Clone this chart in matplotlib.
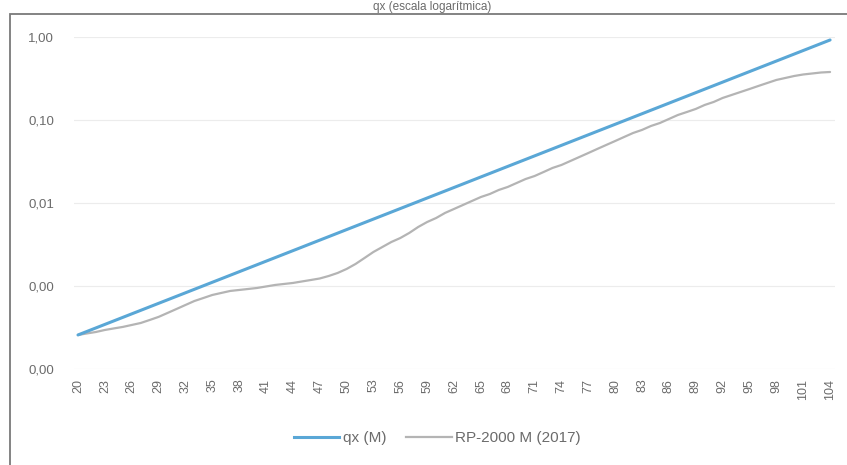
import matplotlib
matplotlib.use("Agg")
import matplotlib.pyplot as plt
from matplotlib.lines import Line2D
from matplotlib.patches import Rectangle
from matplotlib.ticker import FixedLocator, FuncFormatter

plt.rcParams['font.family'] = ['Liberation Sans', 'DejaVu Sans']

ages = list(range(20, 105))

qx_m = [
    2.570e-4, 2.833e-4, 3.123e-4, 3.443e-4, 3.795e-4, 4.183e-4, 4.612e-4, 5.083e-4,
    5.604e-4, 6.177e-4, 6.808e-4, 7.505e-4, 8.272e-4, 9.119e-4, 1.005e-3, 1.108e-3,
    1.221e-3, 1.346e-3, 1.484e-3, 1.636e-3, 1.803e-3, 1.988e-3, 2.191e-3, 2.415e-3,
    2.662e-3, 2.934e-3, 3.235e-3, 3.566e-3, 3.930e-3, 4.332e-3, 4.776e-3, 5.264e-3,
    5.803e-3, 6.397e-3, 7.051e-3, 7.772e-3, 8.567e-3, 9.444e-3, 1.041e-2, 1.148e-2,
    1.265e-2, 1.394e-2, 1.537e-2, 1.694e-2, 1.868e-2, 2.059e-2, 2.269e-2, 2.502e-2,
    2.758e-2, 3.040e-2, 3.351e-2, 3.694e-2, 4.072e-2, 4.488e-2, 4.947e-2, 5.454e-2,
    6.012e-2, 6.627e-2, 7.305e-2, 8.052e-2, 8.876e-2, 9.784e-2, 0.1079, 0.1189,
    0.1311, 0.1445, 0.1593, 0.1756, 0.1935, 0.2133, 0.2352, 0.2592, 0.2857, 0.3150,
    0.3472, 0.3827, 0.4219, 0.4650, 0.5126, 0.5651, 0.6229, 0.6866, 0.7569, 0.8343,
    0.9197,
]

rp2000_m_2017 = [
    2.57e-4, 2.68e-4, 2.79e-4, 2.95e-4, 3.08e-4, 3.21e-4, 3.39e-4, 3.58e-4,
    3.89e-4, 4.24e-4, 4.73e-4, 5.28e-4, 5.90e-4, 6.59e-4, 7.16e-4, 7.79e-4,
    8.24e-4, 8.71e-4, 8.95e-4, 9.20e-4, 9.46e-4, 9.86e-4, 1.028e-3, 1.057e-3,
    1.087e-3, 1.133e-3, 1.180e-3, 1.231e-3, 1.319e-3, 1.435e-3, 1.603e-3, 1.841e-3,
    2.173e-3, 2.570e-3, 2.951e-3, 3.388e-3, 3.784e-3, 4.355e-3, 5.14e-3, 5.90e-3,
    6.59e-3, 7.59e-3, 8.47e-3, 9.46e-3, 1.057e-2, 1.180e-2, 1.283e-2, 1.435e-2,
    1.560e-2, 1.742e-2, 1.945e-2, 2.113e-2, 2.360e-2, 2.642e-2, 2.871e-2, 3.206e-2,
    3.581e-2, 4.000e-2, 4.477e-2, 5.00e-2, 5.58e-2, 6.24e-2, 6.97e-2, 7.59e-2,
    8.47e-2, 9.20e-2, 0.1028, 0.1148, 0.1247, 0.1358, 0.1517, 0.1648, 0.1841,
    0.2000, 0.2173, 0.2360, 0.2570, 0.2793, 0.3034, 0.3206, 0.3388, 0.3532,
    0.3631, 0.3733, 0.3784,
]

age_ticks = list(range(20, 105, 3))
y_ticks = [1e-4, 1e-3, 1e-2, 1e-1, 1.0]
series_names = ["qx (M)", "RP-2000 M (2017)"]
chart_title = "qx (escala logarítmica)"

blue = "#5aa7d6"
gray = "#b4b4b4"
text_gray = "#6b6b6b"

fig = plt.figure(figsize=(8.47, 4.65), dpi=100)
ax = fig.add_axes([0.0868, 0.2065, 0.8985, 0.7140])

ax.plot(ages, qx_m, color=blue, lw=2.2, solid_capstyle="round", zorder=3)
ax.plot(ages, rp2000_m_2017, color=gray, lw=1.6, solid_capstyle="round", zorder=2)

ax.set_yscale("log")
ax.set_ylim(1e-4, 1.0)
ax.set_xlim(19.5, 104.5)

ax.yaxis.set_major_locator(FixedLocator(y_ticks))
ax.yaxis.set_minor_locator(FixedLocator([]))
ax.yaxis.set_major_formatter(FuncFormatter(lambda v, p: f"{v:.2f}".replace(".", ",")))
ax.set_xticks(age_ticks)
ax.set_xticklabels([str(a) for a in age_ticks], rotation=90)

ax.tick_params(axis="y", length=0, pad=14, labelsize=9.5, labelcolor=text_gray)
ax.tick_params(axis="x", length=0, pad=7, labelsize=9, labelcolor=text_gray)

ax.grid(axis="y", color="#ececec", lw=0.8)
for s in ax.spines.values():
    s.set_visible(False)

handles = [Line2D([], [], color=blue, lw=2.2), Line2D([], [], color=gray, lw=1.6)]
fig.legend(handles, series_names, loc="center", bbox_to_anchor=(437 / 847, 1 - 438 / 465),
           ncol=2, frameon=False, fontsize=11, labelcolor=text_gray,
           handlelength=3.0, handletextpad=0.2, columnspacing=1.3)

# chart frame
fig.patches.append(Rectangle((10 / 847, -0.02), 1.0, 1 - 14 / 465 + 0.02,
                             transform=fig.transFigure, fill=False,
                             edgecolor="#7a7a7a", lw=1.3))

fig.text(432 / 847, 1 - 1 / 465, chart_title, ha="center", va="top",
         fontsize=8.5, color=text_gray)

fig.savefig("out.png", dpi=100, facecolor="white")
